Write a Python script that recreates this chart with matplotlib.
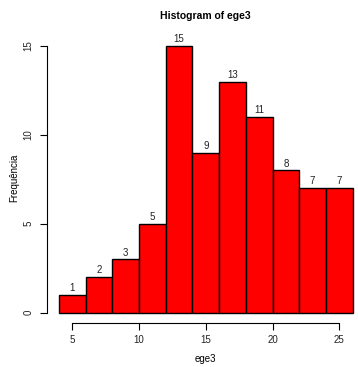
import numpy as np
import matplotlib
matplotlib.use("Agg")
import matplotlib.pyplot as plt

plt.rcParams['font.family'] = ['Liberation Sans', 'DejaVu Sans']

# histogram of ege3 (breaks of width 2)
breaks = [4, 6, 8, 10, 12, 14, 16, 18, 20, 22, 24, 26]
counts = [1, 2, 3, 5, 15, 9, 13, 11, 8, 7, 7]
xticks = [5, 10, 15, 20, 25]
yticks = [0, 5, 10, 15]

W, H = 358, 367
fig = plt.figure(figsize=(W / 100, H / 100), dpi=100)

# plot region in pixels (R-like, 4% axis extension)
left_px, right_px = 47.2, 358
bottom_px, top_px = 323.2, 35.3
ax = fig.add_axes([left_px / W, (H - bottom_px) / H,
                   (right_px - left_px) / W, (bottom_px - top_px) / H])

lefts = np.array(breaks[:-1])
widths = np.diff(breaks)
ax.bar(lefts, counts, width=widths, align='edge', color='red',
       edgecolor='black', linewidth=1.0)

for x, w, c in zip(lefts, widths, counts):
    ax.annotate(str(c), (x + w / 2, c), xytext=(0, 1.2),
                textcoords='offset points', ha='center', va='bottom',
                fontsize=7, color='#222222')

xr = breaks[-1] - breaks[0]
x0 = breaks[0] - 0.04 * xr
px_per_unit = 267 / 20
ax.set_xlim(x0, x0 + (right_px - left_px) / px_per_unit)
ax.set_ylim(-0.04 * 15, 15 * 1.04)

for s in ['top', 'right']:
    ax.spines[s].set_visible(False)
ax.spines['left'].set_bounds(0, 15)
ax.spines['bottom'].set_bounds(5, 25)
ax.spines['left'].set_linewidth(0.8)
ax.spines['bottom'].set_linewidth(0.8)

ax.set_xticks(xticks)
ax.set_yticks(yticks)
ax.tick_params(axis='both', direction='out', length=5, width=0.8,
               labelsize=7, colors='black', labelcolor='#222222')
ax.tick_params(axis='y', pad=5)
for lab in ax.get_yticklabels():
    lab.set_rotation(90)
    lab.set_va('center')

fig.text(0.5 * (left_px + 364.4) / W, 1 - 16 / H, 'Histogram of ege3',
         ha='center', va='center', fontsize=7.5, fontweight='bold')
fig.text(0.5 * (left_px + 364.4) / W, 1 - 359 / H, 'ege3',
         ha='center', va='center', fontsize=7)
fig.text(14 / W, 1 - 178 / H, 'Frequência', rotation=90,
         ha='center', va='center', fontsize=7)

fig.savefig('out.png', dpi=100)
